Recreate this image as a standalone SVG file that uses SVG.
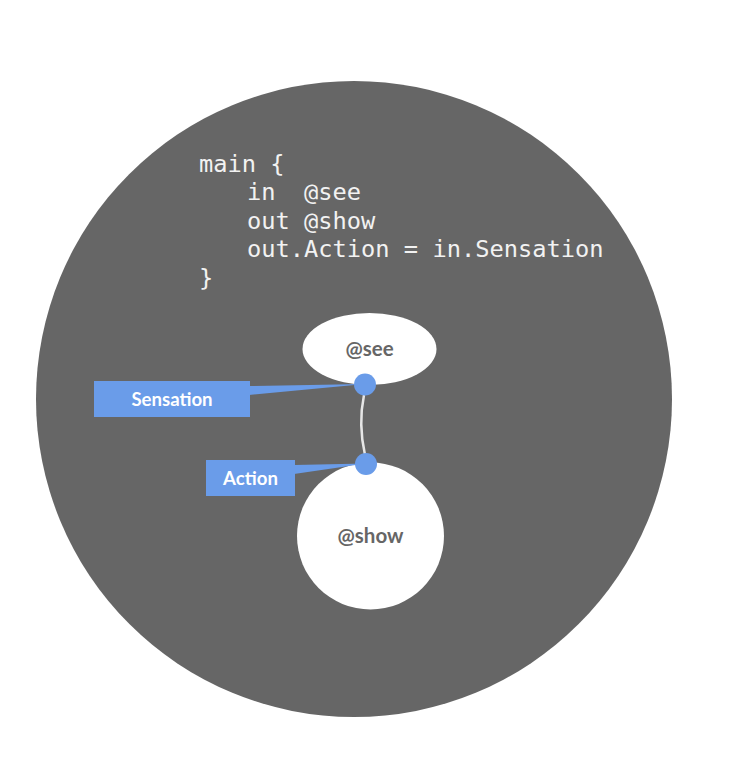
<svg xmlns="http://www.w3.org/2000/svg" width="738" height="775" viewBox="0 0 738 775">
<style>
.code{font-family:"DejaVu Sans Mono","Liberation Mono",monospace;font-size:23.7px;fill:#f2f2f2}
.node{fill:#ffffff}
.nlabel{font-family:Lato,"Open Sans",sans-serif;font-weight:bold;font-size:20.5px;fill:#666666;text-anchor:middle}
.port{fill:#6a9ce9}
.plabel{font-family:Lato,"Open Sans",sans-serif;font-weight:bold;font-size:18.6px;fill:#ffffff;text-anchor:middle}
.edge{fill:none;stroke:#e6e6e6;stroke-width:2.5}
</style>
<rect width="738" height="775" fill="#ffffff"/>
<g id="main">
<circle cx="354" cy="399" r="318" fill="#666666"/>
<text class="code" x="199" y="172">main {</text>
<text class="code" x="247" y="200" xml:space="preserve">in  @see</text>
<text class="code" x="247" y="229" xml:space="preserve">out @show</text>
<text class="code" x="247" y="257">out.Action = in.Sensation</text>
<text class="code" x="199" y="286">}</text>
</g>
<g id="connectors">
<path class="edge" d="M364 395 Q358 424 365 455"/>
</g>
<g id="see">
<ellipse class="node" cx="369.5" cy="349" rx="67" ry="36"/>
<text class="nlabel" x="369.5" y="356">@see</text>
</g>
<g id="show">
<circle class="node" cx="370.5" cy="536" r="73.5"/>
<text class="nlabel" x="370.5" y="543">@show</text>
</g>
<g id="sensation">
<polygon class="port" points="249,386 249,395 365,384"/>
<rect class="port" x="94" y="381" width="156" height="36"/>
<circle class="port" cx="365" cy="384.5" r="11"/>
<text class="plabel" x="172" y="406">Sensation</text>
</g>
<g id="action">
<polygon class="port" points="294,465 294,474 366,463.5"/>
<rect class="port" x="206" y="460" width="89" height="36"/>
<circle class="port" cx="366" cy="464" r="11"/>
<text class="plabel" x="250.5" y="484.5">Action</text>
</g>
</svg>
